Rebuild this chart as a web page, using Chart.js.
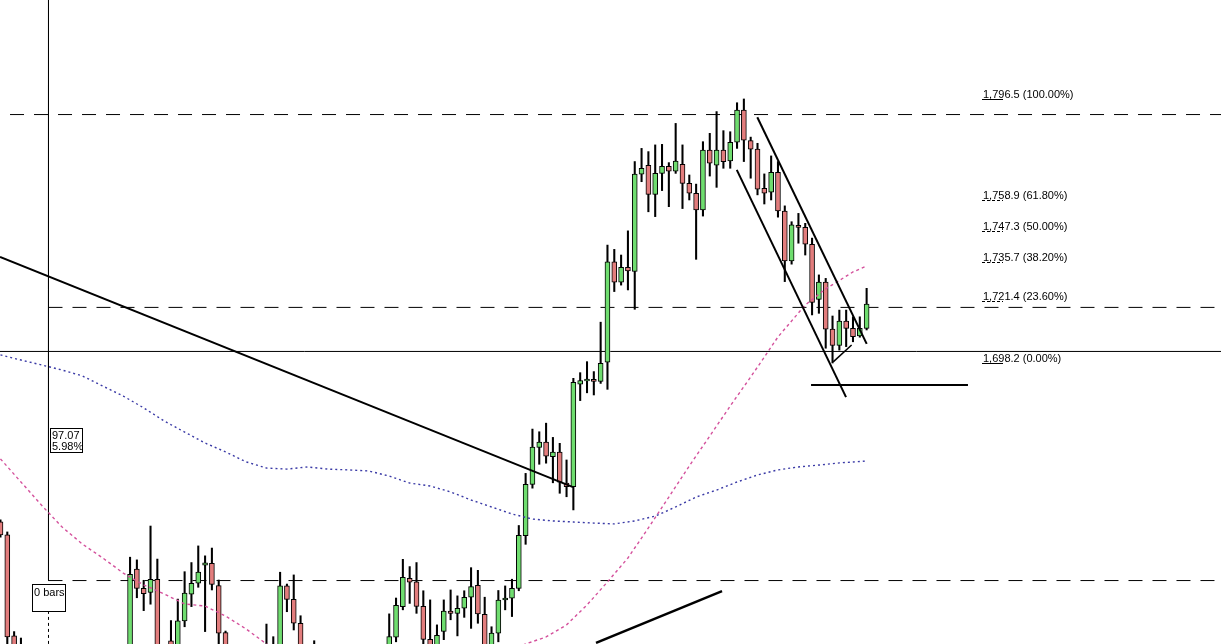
<!DOCTYPE html>
<html>
<head>
<meta charset="utf-8">
<script src="https://cdn.jsdelivr.net/npm/chart.js@4/dist/chart.umd.min.js"></script>
<style>
  html, body { margin: 0; padding: 0; background: #ffffff; overflow: hidden; }
  canvas { display: block; }
</style>
</head>
<body>
<canvas id="c" width="1221" height="644"></canvas>
<script>
// Daily bars, one slot per session; null = bar sits below the visible pane.
const opens = [
  1639.1, 1634.2, 1596.6, 1592.0, null, null, null, null, null, null,
  null, null, null, null, null, null, null, null, null, 1585.0,
  1621.5, 1614.3, 1612.8, 1617.7, null, 1594.8, 1590.0, 1602.2, 1612.1, 1616.2,
  1622.9, 1623.6, 1615.3, 1597.8, null, null, null, null, null, 1592.0,
  1587.0, 1590.0, 1615.2, 1610.2, 1601.3, null, 1590.0, null, null, null,
  null, null, null, null, null, null, null, 1590.0, 1596.1, 1607.5,
  1618.0, 1616.7, 1607.6, 1595.3, 1590.0, 1598.3, 1605.8, 1605.0, 1606.9, 1611.0,
  1615.4, 1604.6, 1592.0, 1597.6, 1610.0, 1610.6, 1614.3, 1633.9, 1653.0, 1666.8,
  1668.8, 1663.3, 1665.0, 1653.5, 1652.2, 1690.3, 1691.5, 1692.1, 1691.3, 1698.5,
  1735.9, 1728.3, 1733.8, 1732.3, 1768.5, 1771.8, 1761.0, 1768.8, 1771.4, 1769.6,
  1772.2, 1765.1, 1761.4, 1755.2, 1777.5, 1771.9, 1777.5, 1773.4, 1780.4, 1792.4,
  1781.0, 1777.8, 1763.2, 1761.8, 1769.2, 1754.8, 1736.2, 1749.5, 1748.7, 1742.4,
  1721.9, 1728.3, 1710.8, 1704.7, 1713.8, 1711.1, 1708.3, 1711.1
];
const highs = [
  1639.8, 1635.3, 1598.2, 1595.8, null, null, null, null, null, null,
  null, null, null, null, null, null, null, null, null, 1625.9,
  1624.9, 1617.3, 1637.5, 1625.2, null, 1602.3, 1610.3, 1620.5, 1623.9, 1630.1,
  1626.4, 1629.3, 1617.4, 1598.4, null, null, null, null, null, 1601.0,
  1596.3, 1620.3, 1615.9, 1619.3, 1604.1, null, 1594.8, null, null, null,
  null, null, null, null, null, null, null, 1604.8, 1610.7, 1625.1,
  1622.4, 1623.9, 1613.4, 1610.0, 1600.7, 1610.0, 1613.7, 1611.5, 1613.4, 1622.0,
  1621.0, 1611.0, 1600.0, 1613.5, 1615.2, 1617.7, 1637.7, 1657.1, 1673.6, 1672.6,
  1675.8, 1670.5, 1668.3, 1662.1, 1692.5, 1694.6, 1698.7, 1695.0, 1713.4, 1742.1,
  1740.5, 1738.4, 1747.4, 1773.2, 1778.1, 1776.9, 1779.4, 1779.6, 1772.8, 1787.4,
  1779.4, 1768.2, 1764.8, 1780.6, 1783.7, 1791.8, 1784.7, 1784.3, 1795.1, 1796.5,
  1782.3, 1780.0, 1768.6, 1775.3, 1773.2, 1756.7, 1750.8, 1753.9, 1750.2, 1744.7,
  1731.0, 1729.7, 1715.7, 1717.9, 1717.9, 1715.4, 1715.4, 1726.0
];
const lows = [
  1633.4, 1590.0, 1585.0, 1583.0, null, null, null, null, null, null,
  null, null, null, null, null, null, null, null, null, 1582.0,
  1610.8, 1606.0, 1608.4, 1588.0, null, 1587.0, 1588.0, 1600.0, 1607.5, 1614.7,
  1598.2, 1613.7, 1592.0, 1586.0, null, null, null, null, null, 1585.0,
  1585.0, 1588.0, 1605.6, 1598.8, 1588.0, null, 1585.0, null, null, null,
  null, null, null, null, null, null, null, 1588.0, 1594.4, 1606.3,
  1608.7, 1605.0, 1592.0, 1588.0, 1588.0, 1595.2, 1602.6, 1596.6, 1603.5, 1599.4,
  1601.3, 1590.0, 1590.0, 1594.4, 1606.3, 1603.8, 1613.4, 1630.7, 1651.6, 1660.5,
  1660.9, 1653.6, 1649.7, 1648.4, 1643.5, 1684.2, 1687.1, 1686.3, 1690.6, 1688.4,
  1724.8, 1727.2, 1725.4, 1718.2, 1765.7, 1754.5, 1752.7, 1762.4, 1756.4, 1768.8,
  1755.7, 1758.9, 1736.8, 1752.9, 1767.8, 1763.6, 1770.7, 1770.7, 1778.1, 1773.2,
  1767.0, 1760.8, 1757.4, 1758.9, 1752.5, 1728.5, 1735.0, 1742.8, 1738.4, 1716.1,
  1716.7, 1703.7, 1698.2, 1703.0, 1704.3, 1706.1, 1707.8, 1710.5
];
const closes = [
  1634.2, 1596.2, 1588.0, 1586.0, null, null, null, null, null, null,
  null, null, null, null, null, null, null, null, null, 1619.5,
  1614.3, 1612.3, 1617.7, 1590.0, null, 1589.0, 1602.2, 1612.5, 1616.2, 1620.4,
  1623.8, 1615.8, 1597.6, 1589.0, null, null, null, null, null, 1588.0,
  1592.0, 1615.2, 1610.2, 1601.3, 1590.0, null, 1587.0, null, null, null,
  null, null, null, null, null, null, null, 1596.3, 1608.0, 1618.4,
  1616.6, 1607.6, 1595.3, 1590.0, 1596.8, 1605.8, 1605.0, 1606.9, 1611.0, 1615.0,
  1604.8, 1592.0, 1597.6, 1609.9, 1610.7, 1614.3, 1634.0, 1653.0, 1666.9, 1668.8,
  1663.5, 1665.0, 1653.8, 1652.2, 1691.0, 1691.7, 1692.2, 1691.3, 1698.1, 1735.9,
  1728.3, 1733.8, 1732.5, 1768.5, 1770.7, 1761.0, 1768.8, 1771.4, 1769.6, 1773.4,
  1765.1, 1761.4, 1755.2, 1777.5, 1772.6, 1777.5, 1773.2, 1780.4, 1792.4, 1781.2,
  1777.8, 1762.9, 1761.4, 1769.2, 1754.8, 1736.2, 1749.6, 1748.7, 1742.4, 1720.8,
  1728.3, 1710.8, 1704.7, 1713.8, 1711.1, 1708.0, 1711.1, 1720.1
];

// Slow moving average (blue), sampled at bar slots
const slowMaAt = [0, 3, 6, 9, 12, 15, 18, 21, 24, 27, 30, 33, 36, 39, 42, 45, 48, 51, 54, 57, 60,
  63, 66, 69, 72, 75, 78, 81, 84, 87, 90, 93, 96, 99, 102, 105, 108, 111, 114, 117, 120, 123, 127];
const slowMa = [1701.2, 1699.3, 1697.5, 1695.6, 1693.4, 1689.6, 1685.9, 1681.5, 1676.6, 1672.5, 1668.4,
  1665.1, 1661.4, 1659.1, 1658.7, 1659.5, 1658.7, 1658.4, 1658.0, 1656.1, 1653.5, 1652.4, 1650.2,
  1647.2, 1644.6, 1642.0, 1640.1, 1639.4, 1639.0, 1638.6, 1638.3, 1639.4, 1641.2, 1644.6, 1648.3,
  1650.9, 1653.9, 1656.5, 1658.4, 1659.5, 1660.2, 1661.0, 1661.7];

// Fast moving average (pink); null where it runs below the pane
const fastMaAt = [0, 3, 6, 9, 12, 15, 18, 21, 24, 27, 30, 33, 36, 39, 41, 58,
  75, 77, 80, 83, 86, 89, 92, 95, 98, 101, 104, 107, 110, 112, 114, 118, 121, 125, 127];
const fastMa = [1662.5, 1653.9, 1645.3, 1637.2, 1630.8, 1625.6, 1620.0, 1615.6, 1612.2, 1608.5,
  1607.7, 1604.0, 1599.2, 1593.6, 1590.6, null,
  1591.4, 1593.6, 1596.2, 1600.7, 1608.1, 1616.7, 1625.6, 1636.8, 1648.3, 1659.9, 1671.0,
  1682.2, 1693.0, 1700.4, 1707.9, 1719.8, 1725.8, 1732.1, 1734.3];

// Hand-drawn studies: [slot, price] end points
const fallingTrend = [[-0.07, 1737.7], [83.95, 1652.0]];
const channelTop = [[110.97, 1789.7], [127.01, 1705.3]];
const channelBottom = [[107.96, 1770.1], [123.98, 1685.5]];
const breakoutFloor = [[118.85, 1690.0], [141.86, 1690.0]];
const reboundLeg = [[122.1, 1698.6], [124.8, 1704.9]];
const risingTrend = [[87.32, 1594.0], [105.8, 1613.3]];

// Horizontal levels
const dashedLevels = [1790.7, 1718.9, 1617.2];
const dashedStarts = [1.4, 7.04, 7.04];
const solidLevel = 1702.5;

// Fibonacci retracement of the last swing
const fibLevels = [1796.5, 1758.9, 1747.3, 1735.7, 1721.4, 1698.2];
const fibRatios = ['100.00%', '61.80%', '50.00%', '38.20%', '23.60%', '0.00%'];

// Measuring tool readout
const measureAt = 7.04;
const measureMove = 97.07;
const measurePct = '5.98%';
const measureBars = 0;

const X_MIN = -0.07, X_MAX = 178.96;
const Y_MIN = 1593.58, Y_MAX = 1833.35;
const UP = '#6fdd6f', DOWN = '#e27d7d';

const shown = opens.map((_, j) => j).filter(j => opens[j] !== null);
const bodyData = shown.map(j => ({ x: j, y: [opens[j], closes[j]] }));
const wickData = shown.map(j => ({ x: j, y: [lows[j], highs[j]] }));
const bodyColors = shown.map(j => (closes[j] >= opens[j] ? UP : DOWN));
const pts = arr => arr.map(([x, y]) => ({ x, y }));

const lineSet = (data, extra) => Object.assign({
  type: 'line', data, borderColor: '#000', borderWidth: 1,
  pointRadius: 0, tension: 0, fill: false, spanGaps: false, order: 0
}, extra);

const datasets = [
  // studies on top
  lineSet(pts(fallingTrend), { borderWidth: 2 }),
  lineSet(pts(channelTop), { borderWidth: 2 }),
  lineSet(pts(channelBottom), { borderWidth: 2 }),
  lineSet(pts(breakoutFloor), { borderWidth: 2 }),
  lineSet(pts(reboundLeg), { borderWidth: 1.5 }),
  lineSet(pts(risingTrend), { borderWidth: 2.5 }),
  // moving averages
  lineSet(slowMaAt.map((x, k) => ({ x, y: slowMa[k] })),
    { borderColor: '#3a3aa6', borderWidth: 1.4, borderDash: [2, 3], order: 1 }),
  lineSet(fastMaAt.map((x, k) => ({ x, y: fastMa[k] })),
    { borderColor: '#d4519c', borderWidth: 1.4, borderDash: [3, 3], order: 1 }),
  // candles
  {
    type: 'bar', data: bodyData, backgroundColor: bodyColors, borderColor: '#000',
    borderWidth: 1, borderSkipped: false, barThickness: 5, grouped: false, order: 2
  },
  {
    type: 'bar', data: wickData, backgroundColor: '#000', borderWidth: 0,
    barThickness: 1.4, grouped: false, order: 3
  },
  // levels and measuring line behind the bars
  ...dashedLevels.map((lv, k) => lineSet(
    [{ x: dashedStarts[k], y: lv }, { x: X_MAX + 1, y: lv }],
    { borderDash: [14, 10], order: 4 })),
  lineSet([{ x: X_MIN - 1, y: solidLevel }, { x: X_MAX + 1, y: solidLevel }], { order: 4 }),
  lineSet([{ x: measureAt, y: Y_MAX + 5 }, { x: measureAt, y: dashedLevels[2] }], { order: 4 }),
  lineSet([{ x: measureAt, y: 1605.9 }, { x: measureAt, y: Y_MIN - 5 }],
    { borderDash: [3, 3], order: 4 })
];

const fmtPrice = v => v.toLocaleString('en-US', { minimumFractionDigits: 1, maximumFractionDigits: 1 });

// Text readouts: fib labels and the measuring boxes
const annotate = {
  id: 'annotate',
  afterDraw(chart) {
    const { ctx, scales: { x, y } } = chart;
    ctx.save();
    ctx.font = '11px "Liberation Sans", Arial, sans-serif';
    ctx.fillStyle = '#000';
    ctx.strokeStyle = '#000';
    ctx.lineWidth = 1;
    ctx.textBaseline = 'alphabetic';
    const lx = Math.round(x.getPixelForValue(143.9));
    fibLevels.forEach((lv, k) => {
      const py = Math.round(y.getPixelForValue(lv)) + 0.5;
      const edge = k === 0 || k === fibLevels.length - 1;
      ctx.setLineDash(edge ? [] : [3, 2]);
      ctx.beginPath();
      ctx.moveTo(lx, py);
      ctx.lineTo(lx + 21, py);
      ctx.stroke();
      ctx.setLineDash([]);
      ctx.fillText(fmtPrice(lv) + ' (' + fibRatios[k] + ')', lx + 1, py - 1.5);
    });

    const vx = Math.round(x.getPixelForValue(measureAt));
    // move / percent box
    const top1 = Math.round(y.getPixelForValue(1674.0));
    ctx.fillStyle = '#fff';
    ctx.fillRect(vx + 2, top1, 33, 25);
    ctx.strokeRect(vx + 2.5, top1 + 0.5, 32, 24);
    ctx.fillStyle = '#000';
    ctx.fillText(measureMove.toFixed(2), vx + 4, top1 + 11);
    ctx.fillText(measurePct, vx + 4, top1 + 22);
    // bar count box
    const top2 = Math.round(y.getPixelForValue(dashedLevels[2])) + 3;
    ctx.fillStyle = '#fff';
    ctx.fillRect(vx - 16, top2, 34, 28);
    ctx.strokeRect(vx - 15.5, top2 + 0.5, 33, 27);
    ctx.fillStyle = '#000';
    ctx.fillText(measureBars + ' bars', vx - 14, top2 + 12);
    ctx.restore();
  }
};

new Chart(document.getElementById('c'), {
  type: 'bar',
  data: { datasets },
  options: {
    responsive: false,
    animation: false,
    devicePixelRatio: 1,
    events: [],
    layout: { padding: 0 },
    plugins: { legend: { display: false }, tooltip: { enabled: false } },
    scales: {
      x: { type: 'linear', min: X_MIN, max: X_MAX, display: false, offset: false },
      y: { type: 'linear', min: Y_MIN, max: Y_MAX, display: false }
    }
  },
  plugins: [annotate]
});
</script>
</body>
</html>
